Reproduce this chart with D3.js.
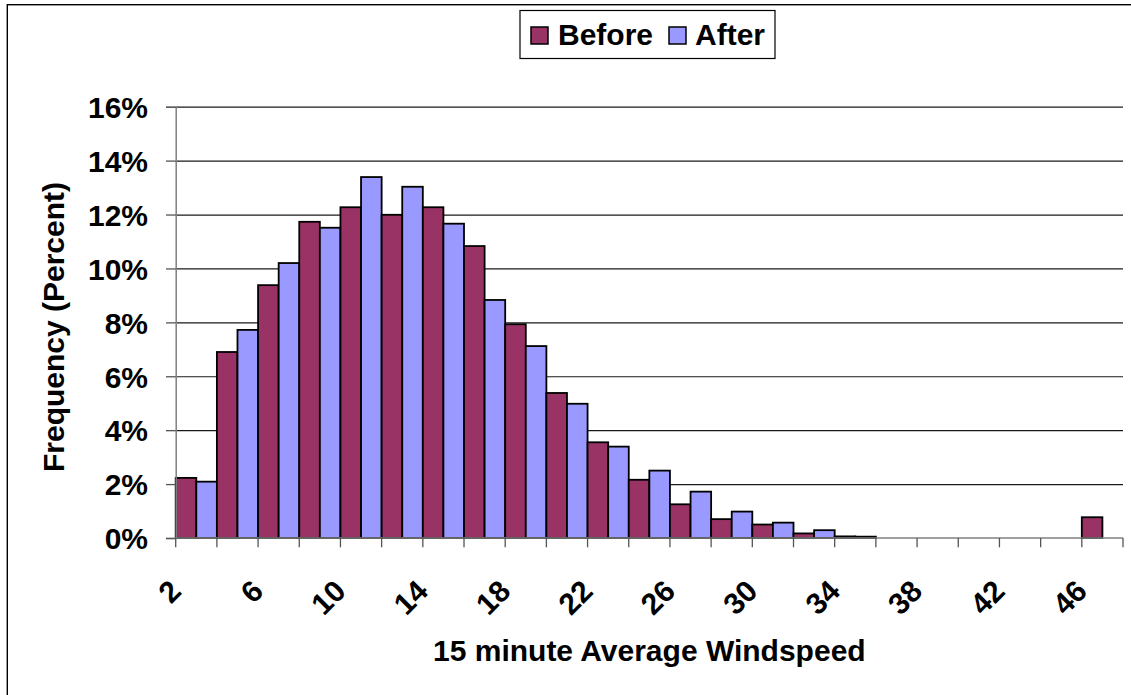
<!DOCTYPE html>
<html>
<head>
<meta charset="utf-8">
<script src="https://cdn.jsdelivr.net/npm/d3@7"></script>
<style>
  html, body { margin: 0; padding: 0; background: #fff; }
  svg { display: block; }
  text { font-family: "Liberation Sans", Arial, sans-serif; font-weight: bold; fill: #000; }
</style>
</head>
<body>
<svg id="chart" width="1131" height="695"></svg>
<script>
// Wind speed bins (mph) and frequency of each bin, in percent
const categories = [2, 4, 6, 8, 10, 12, 14, 16, 18, 20, 22, 24, 26, 28, 30, 32, 34, 36, 38, 40, 42, 44, 46];
const beforeValues = [2.23, 6.90, 9.38, 11.73, 12.27, 11.99, 12.27, 10.83, 7.93, 5.38, 3.55, 2.16, 1.25, 0.70, 0.50, 0.17, 0.06, 0, 0, 0, 0, 0, 0.77];
const afterValues  = [2.09, 7.72, 10.20, 11.51, 13.39, 13.03, 11.66, 8.83, 7.12, 4.98, 3.39, 2.50, 1.72, 0.98, 0.57, 0.29, 0.05, 0, 0, 0, 0, 0, 0];
const seriesNames = ["Before", "After"];
const seriesColors = ["#993366", "#9999FF"];
const yTicks = [0, 2, 4, 6, 8, 10, 12, 14, 16];
const xLabelCats = [2, 6, 10, 14, 18, 22, 26, 30, 34, 38, 42, 46];
const xTitle = "15 minute Average Windspeed";
const yTitle = "Frequency (Percent)";

const svg = d3.select("#chart");
const W = 1131, H = 695;
const plot = { left: 175.7, right: 1123, top: 106.7, bottom: 538 };

// outer frame (its right and bottom edges fall outside the page)
svg.append("rect")
  .attr("x", 7.3).attr("y", 4.7)
  .attr("width", W + 20).attr("height", H + 20)
  .attr("fill", "#fff").attr("stroke", "#000").attr("stroke-width", 1.4);

const x = d3.scaleBand().domain(categories).range([plot.left, plot.right]).padding(0);
const xs = d3.scaleBand().domain(seriesNames).range([0, x.bandwidth()]).padding(0);
const y = d3.scaleLinear().domain([0, 16]).range([plot.bottom, plot.top]);

// horizontal gridlines
const grid = svg.append("g")
  .attr("transform", `translate(${plot.left},0)`)
  .call(d3.axisLeft(y).tickValues(yTicks.filter(d => d > 0)).tickSize(-(plot.right - plot.left)).tickFormat(""));
grid.select(".domain").remove();
grid.selectAll(".tick line").attr("stroke", "#1a1a1a").attr("stroke-width", 1.2);

// bars
const rows = categories.map((c, i) => ({ cat: c, values: [beforeValues[i], afterValues[i]] }));
const groups = svg.append("g").selectAll("g")
  .data(rows).join("g")
  .attr("transform", d => `translate(${x(d.cat)},0)`);
groups.selectAll("rect")
  .data(d => d.values.map((v, k) => ({ name: seriesNames[k], v, k })).filter(e => e.v > 0))
  .join("rect")
  .attr("x", e => xs(e.name))
  .attr("width", xs.bandwidth())
  .attr("y", e => y(e.v))
  .attr("height", e => y(0) - y(e.v))
  .attr("fill", e => seriesColors[e.k])
  .attr("stroke", "#000")
  .attr("stroke-width", 1.8);

// y axis
const yAxis = svg.append("g")
  .attr("transform", `translate(${plot.left},0)`)
  .call(d3.axisLeft(y).tickValues(yTicks).tickFormat(d => d + "%").tickSize(9.7).tickPadding(18));
yAxis.select(".domain").attr("stroke", "#808080").attr("stroke-width", 1.5);
yAxis.selectAll(".tick line").attr("stroke", "#555").attr("stroke-width", 1.3);
yAxis.selectAll(".tick text")
  .attr("font-size", 30).attr("dy", "0.36em")
  .style("font-family", "'Liberation Sans', Arial, sans-serif").style("font-weight", "bold");

// x axis: line, tick marks on category boundaries, rotated labels
const xAxis = svg.append("g");
xAxis.append("line")
  .attr("x1", plot.left).attr("x2", plot.right)
  .attr("y1", y(0)).attr("y2", y(0))
  .attr("stroke", "#808080").attr("stroke-width", 1.5);
const boundaries = categories.map(c => x(c)).concat([x(categories[categories.length - 1]) + x.bandwidth()]);
xAxis.selectAll("line.tick")
  .data(boundaries).join("line")
  .attr("class", "tick")
  .attr("x1", d => d).attr("x2", d => d)
  .attr("y1", y(0)).attr("y2", y(0) + 9.3)
  .attr("stroke", "#555").attr("stroke-width", 1.3);
xAxis.selectAll("text")
  .data(xLabelCats).join("text")
  .attr("transform", d => `translate(${x(d) + 7},${y(0) + 55}) rotate(-45)`)
  .attr("text-anchor", "end")
  .attr("font-size", 30)
  .text(d => d);

// axis titles
svg.append("text")
  .attr("x", (plot.left + plot.right) / 2).attr("y", 661)
  .attr("text-anchor", "middle").attr("font-size", 30)
  .text(xTitle);
svg.append("text")
  .attr("transform", `translate(64,${327}) rotate(-90)`)
  .attr("text-anchor", "middle").attr("font-size", 30)
  .text(yTitle);

// legend
const legend = svg.append("g");
legend.append("rect")
  .attr("x", 520).attr("y", 10.5).attr("width", 255).attr("height", 48)
  .attr("fill", "#fff").attr("stroke", "#000").attr("stroke-width", 1.2);
const legendX = [531, 669];
const legendTextX = [558, 695];
seriesNames.forEach((name, k) => {
  legend.append("rect")
    .attr("x", legendX[k]).attr("y", 27).attr("width", 17).attr("height", 17)
    .attr("fill", seriesColors[k]).attr("stroke", "#000").attr("stroke-width", 1.5);
  legend.append("text")
    .attr("x", legendTextX[k]).attr("y", 44.5)
    .attr("font-size", 30)
    .text(name);
});
</script>
</body>
</html>
